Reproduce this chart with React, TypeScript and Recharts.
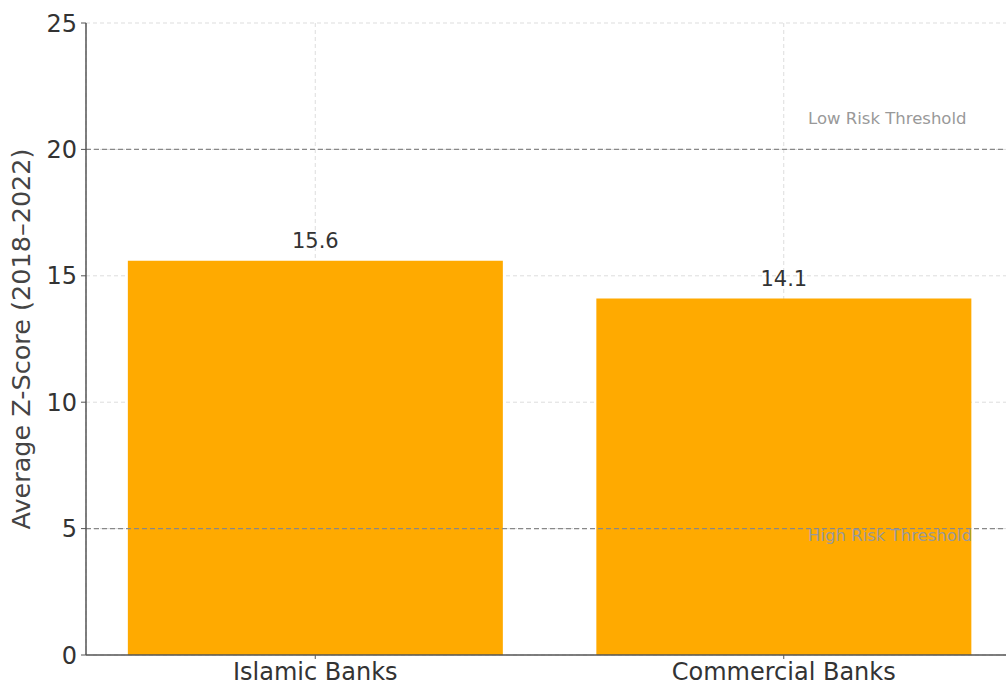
import React from "react";
import {
  BarChart,
  Bar,
  XAxis,
  YAxis,
  CartesianGrid,
  ReferenceLine,
  LabelList,
  Label,
} from "recharts";

const categories = ["Islamic Banks", "Commercial Banks"];
const zScores = [15.6, 14.1];
const yTicks = [0, 5, 10, 15, 20, 25];
const lowRiskThreshold = 20;
const highRiskThreshold = 5;
const lowRiskLabel = "Low Risk Threshold";
const highRiskLabel = "High Risk Threshold";
const yAxisLabel = "Average Z-Score (2018–2022)";

const data = categories.map((c, i) => ({ name: c, value: zScores[i] }));

const FONT = "'DejaVu Sans', sans-serif";

const ThresholdLabel = (props: any) => {
  const { viewBox, text, dy } = props;
  const x = 808;
  const y = viewBox.y + dy;
  return (
    <text x={x} y={y} fill="#999" fontSize={16.5} fontFamily={FONT} dominantBaseline="middle">
      {text}
    </text>
  );
};

export default function App() {
  return (
    <div
      style={{
        position: "absolute",
        left: 0,
        top: 0,
        width: 1006,
        height: 686,
        overflow: "hidden",
        background: "#fff",
      }}
    >
      <BarChart
        width={1030}
        height={686}
        data={data}
        margin={{ top: 23, right: 12, bottom: 0, left: 0 }}
        barCategoryGap="10%"
      >
        <CartesianGrid stroke="#ddd" strokeDasharray="4 3" />
        <XAxis
          dataKey="name"
          height={31}
          padding={{ left: -5, right: 0 }}
          axisLine={{ stroke: "#555", strokeWidth: 1.5 }}
          tickLine={{ stroke: "#555" }}
          tickSize={4}
          tickMargin={4}
          tick={{ fill: "#333", fontSize: 24, fontFamily: FONT }}
        />
        <YAxis
          width={86}
          domain={[0, 25]}
          ticks={yTicks}
          axisLine={{ stroke: "#555", strokeWidth: 1.5 }}
          tickLine={{ stroke: "#555" }}
          tickSize={5}
          tickMargin={4}
          tick={{ fill: "#333", fontSize: 24, fontFamily: FONT }}
        >
          <Label
            value={yAxisLabel}
            angle={-90}
            position="insideLeft"
            offset={21}
            style={{ textAnchor: "middle", fill: "#444", fontSize: 25.5, fontFamily: FONT }}
          />
        </YAxis>
        <Bar dataKey="value" fill="#FFAA00" isAnimationActive={false}>
          <LabelList
            dataKey="value"
            position="top"
            offset={13}
            formatter={(v: any) => Number(v).toFixed(1)}
            style={{ fill: "#333", fontSize: 21, fontFamily: FONT }}
          />
        </Bar>
        <ReferenceLine
          y={lowRiskThreshold}
          stroke="#888"
          strokeDasharray="5 3"
          strokeWidth={1.3}
          label={<ThresholdLabel text={lowRiskLabel} dy={-30} />}
        />
        <ReferenceLine
          y={highRiskThreshold}
          stroke="#888"
          strokeDasharray="5 3"
          strokeWidth={1.3}
          label={<ThresholdLabel text={highRiskLabel} dy={8} />}
        />
      </BarChart>
    </div>
  );
}
